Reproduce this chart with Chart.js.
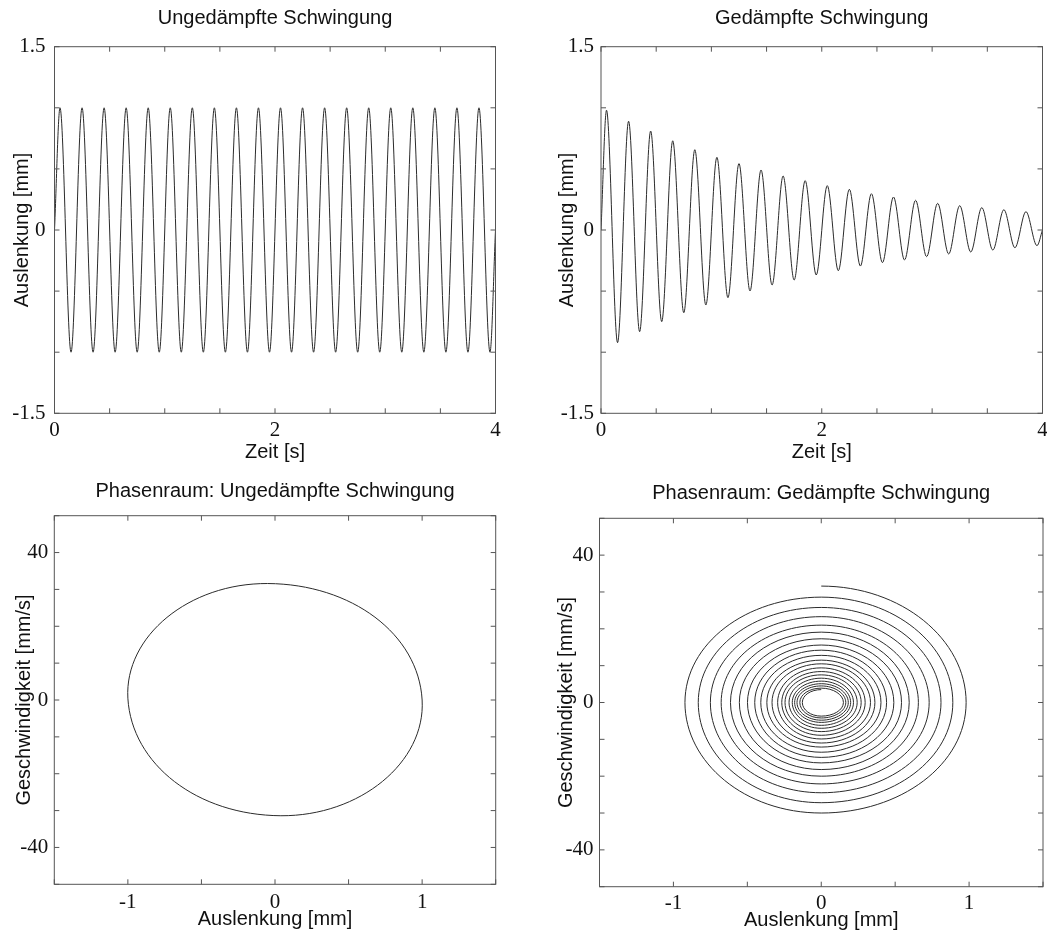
<!DOCTYPE html>
<html lang="de">
<head>
<meta charset="utf-8">
<title>Schwingungen</title>
<script src="https://cdn.jsdelivr.net/npm/chart.js@4.4.0/dist/chart.umd.min.js"></script>
<style>
  body { margin: 0; background: #fff; overflow: hidden; }
  canvas { position: absolute; }
</style>
</head>
<body>
<canvas id="c1" width="550" height="470" style="left:0;top:0"></canvas>
<canvas id="c2" width="554" height="470" style="left:545px;top:0"></canvas>
<canvas id="c3" width="550" height="468" style="left:0;top:470px"></canvas>
<canvas id="c4" width="554" height="468" style="left:545px;top:470px"></canvas>
<script>
// Zeitpunkte: Start, alle Maxima/Minima, Ende [s]
const zeit = [0, 0.05, 0.15, 0.25, 0.35, 0.45, 0.55, 0.65, 0.75, 0.85, 0.95,
  1.05, 1.15, 1.25, 1.35, 1.45, 1.55, 1.65, 1.75, 1.85, 1.95,
  2.05, 2.15, 2.25, 2.35, 2.45, 2.55, 2.65, 2.75, 2.85, 2.95,
  3.05, 3.15, 3.25, 3.35, 3.45, 3.55, 3.65, 3.75, 3.85, 3.95, 4.0];

// Auslenkung ohne Dämpfung [mm]
const auslenkungUngedaempft = [0, 1, -1, 1, -1, 1, -1, 1, -1, 1, -1,
  1, -1, 1, -1, 1, -1, 1, -1, 1, -1,
  1, -1, 1, -1, 1, -1, 1, -1, 1, -1,
  1, -1, 1, -1, 1, -1, 1, -1, 1, -1, 0];

// gedämpft: Maxima und Minima je Periode [mm]
const maximaGedaempft = [0.98, 0.89, 0.81, 0.73, 0.657, 0.595, 0.543, 0.491, 0.442, 0.404,
  0.363, 0.333, 0.297, 0.27, 0.243, 0.218, 0.199, 0.183, 0.166, 0.15];
const minimaGedaempft = [-0.922, -0.832, -0.75, -0.677, -0.614, -0.554, -0.499, -0.45, -0.409, -0.368,
  -0.333, -0.295, -0.267, -0.245, -0.218, -0.196, -0.18, -0.164, -0.145, -0.128];

// Phasenraum ungedämpft: rechts, unten, links, oben
const phaseUngedX = [1.0, 0.04, -1.0, -0.05];
const phaseUngedV = [0, -31.4, 0.5, 31.6];

// Phasenraum gedämpft: Geschwindigkeit beim Nulldurchgang nach oben (Start + je Umlauf) und nach unten [mm/s]
const vOben = [31.6, 28.6, 25.8, 23.3, 21.0, 19.1, 17.3, 15.6, 14.2, 12.8, 11.5,
  10.5, 9.4, 8.4, 7.5, 6.6, 5.8, 5.1, 4.5, 3.9, 3.5];
const vUnten = [-30.0, -27.2, -24.5, -22.1, -20.0, -18.2, -16.4, -14.9, -13.5, -12.1,
  -11.0, -9.9, -8.9, -7.9, -7.0, -6.2, -5.4, -4.8, -4.2, -3.7];

const auslenkungGedaempft = [0];
maximaGedaempft.forEach((m, i) => auslenkungGedaempft.push(m, minimaGedaempft[i]));
auslenkungGedaempft.push(0);

const spirale = [{x: 0, y: vOben[0]}];
maximaGedaempft.forEach((m, i) => {
  spirale.push({x: m, y: 0}, {x: 0, y: vUnten[i]}, {x: minimaGedaempft[i], y: 0}, {x: 0, y: vOben[i + 1]});
});

Chart.defaults.font.family = 'Liberation Sans';
Chart.defaults.color = '#111';

// Rahmen mit nach innen zeigenden Strichen auf allen vier Seiten
const rahmen = {
  id: 'rahmen',
  afterDatasetsDraw(chart) {
    const {ctx, chartArea: a, scales: {x, y}} = chart;
    const len = 5;
    ctx.save();
    ctx.strokeStyle = '#555';
    ctx.lineWidth = 1;
    ctx.beginPath();
    x.ticks.forEach(t => {
      const p = x.getPixelForValue(t.value);
      ctx.moveTo(p, a.bottom); ctx.lineTo(p, a.bottom - len);
      ctx.moveTo(p, a.top); ctx.lineTo(p, a.top + len);
    });
    y.ticks.forEach(t => {
      const p = y.getPixelForValue(t.value);
      ctx.moveTo(a.left, p); ctx.lineTo(a.left + len, p);
      ctx.moveTo(a.right, p); ctx.lineTo(a.right - len, p);
    });
    ctx.stroke();
    ctx.strokeRect(a.left, a.top, a.right - a.left, a.bottom - a.top);
    ctx.restore();
  }
};

// geschlossene Kurve (Ellipse)
const geschlossen = {
  id: 'geschlossen',
  afterDatasetUpdate(chart, args) {
    const line = args.meta.dataset;
    line._loop = true;
    line._fullLoop = true;
    line.points = line.points;
  }
};

// Spirale: Anfang und Ende waagerecht auslaufen lassen
const spiralEnden = {
  id: 'spiralEnden',
  beforeDatasetDraw(chart, args) {
    const line = args.meta.dataset;
    line.updateControlPoints(chart.chartArea, 'x');
    const p = line.points, n = p.length, k = 0.5523;
    p[0].cp2x = p[0].x + k * (p[1].x - p[0].x);
    p[0].cp2y = p[0].y;
    p[n - 1].cp1x = p[n - 1].x + k * (p[n - 2].x - p[n - 1].x);
    p[n - 1].cp1y = p[n - 1].y;
    delete line._path;
  }
};

function achse(min, max, step, beschriftet, titel, o) {
  return {
    type: 'linear', min, max,
    grid: { display: false, drawTicks: false },
    border: { display: false },
    ticks: {
      stepSize: step, autoSkip: false, maxRotation: 0, padding: o.tickPad,
      font: { family: 'Liberation Serif', size: 21 }, color: '#111',
      callback: v => beschriftet.some(b => Math.abs(b - v) < 1e-9) ? String(v) : ''
    },
    title: { display: true, text: titel, font: { size: 20 }, color: '#111', padding: o.titlePad },
    afterFit: o.fit
  };
}

function diagramm(id, titel, daten, lineOpts, xAchse, yAchse, lay, plugins) {
  return new Chart(document.getElementById(id), {
    type: 'line',
    data: { datasets: [Object.assign({
      data: daten, borderColor: '#2b2b2b', borderWidth: 1, pointRadius: 0, fill: false
    }, lineOpts)] },
    options: {
      responsive: false, animation: false,
      layout: { padding: lay.padding },
      plugins: {
        legend: { display: false }, tooltip: { enabled: false },
        title: { display: true, fullSize: false, text: titel, font: { size: 20, weight: 'normal' }, color: '#111', padding: lay.titlePad }
      },
      scales: { x: xAchse, y: yAchse }
    },
    plugins: [rahmen].concat(plugins || [])
  });
}

// oben links: ungedämpfte Schwingung
diagramm('c1', 'Ungedämpfte Schwingung',
  zeit.map((t, i) => ({x: t, y: auslenkungUngedaempft[i]})),
  { cubicInterpolationMode: 'monotone' },
  achse(0, 4, 0.5, [0, 2, 4], 'Zeit [s]', { tickPad: 5, titlePad: { top: 0, bottom: 6 }, fit: s => { s.height = 56.7; } }),
  achse(-1.5, 1.5, 0.5, [-1.5, 0, 1.5], 'Auslenkung [mm]', { tickPad: 9, titlePad: { top: 10, bottom: 0 }, fit: s => { s.width = 54.5; } }),
  { padding: { left: 0, right: 54.5, top: 0, bottom: 0 }, titlePad: { top: 6, bottom: 16.7 } });

// oben rechts: gedämpfte Schwingung
diagramm('c2', 'Gedämpfte Schwingung',
  zeit.map((t, i) => ({x: t, y: auslenkungGedaempft[i]})),
  { cubicInterpolationMode: 'monotone' },
  achse(0, 4, 0.5, [0, 2, 4], 'Zeit [s]', { tickPad: 5, titlePad: { top: 0, bottom: 6 }, fit: s => { s.height = 56.7; } }),
  achse(-1.5, 1.5, 0.5, [-1.5, 0, 1.5], 'Auslenkung [mm]', { tickPad: 7, titlePad: { top: 10, bottom: 0 }, fit: s => { s.width = 56; } }),
  { padding: { left: 0, right: 56.5, top: 0, bottom: 0 }, titlePad: { top: 6, bottom: 16.7 } });

// unten links: Phasenraum ungedämpft
diagramm('c3', 'Phasenraum: Ungedämpfte Schwingung',
  phaseUngedX.map((x, i) => ({x, y: phaseUngedV[i]})),
  { tension: 0.5523 },
  achse(-1.5, 1.5, 0.5, [-1, 0, 1], 'Auslenkung [mm]', { tickPad: 6, titlePad: { top: 0, bottom: 7 }, fit: s => { s.height = 53.7; } }),
  achse(-50, 50, 10, [-40, 0, 40], 'Geschwindigkeit [mm/s]', { tickPad: 6, titlePad: { top: 12, bottom: 0 }, fit: s => { s.width = 54.3; } }),
  { padding: { left: 0, right: 54.3, top: 0, bottom: 0 }, titlePad: { top: 9, bottom: 12.7 } },
  [geschlossen]);

// unten rechts: Phasenraum gedämpft
diagramm('c4', 'Phasenraum: Gedämpfte Schwingung',
  spirale,
  { tension: 0.5523 },
  achse(-1.5, 1.5, 0.5, [-1, 0, 1], 'Auslenkung [mm]', { tickPad: 4, titlePad: { top: 0, bottom: 6 }, fit: s => { s.height = 51.3; } }),
  achse(-50, 50, 10, [-40, 0, 40], 'Geschwindigkeit [mm/s]', { tickPad: 6, titlePad: { top: 9, bottom: 0 }, fit: s => { s.width = 54.5; } }),
  { padding: { left: 0, right: 56, top: 0, bottom: 0 }, titlePad: { top: 11, bottom: 13.3 } },
  [spiralEnden]);
</script>
</body>
</html>
